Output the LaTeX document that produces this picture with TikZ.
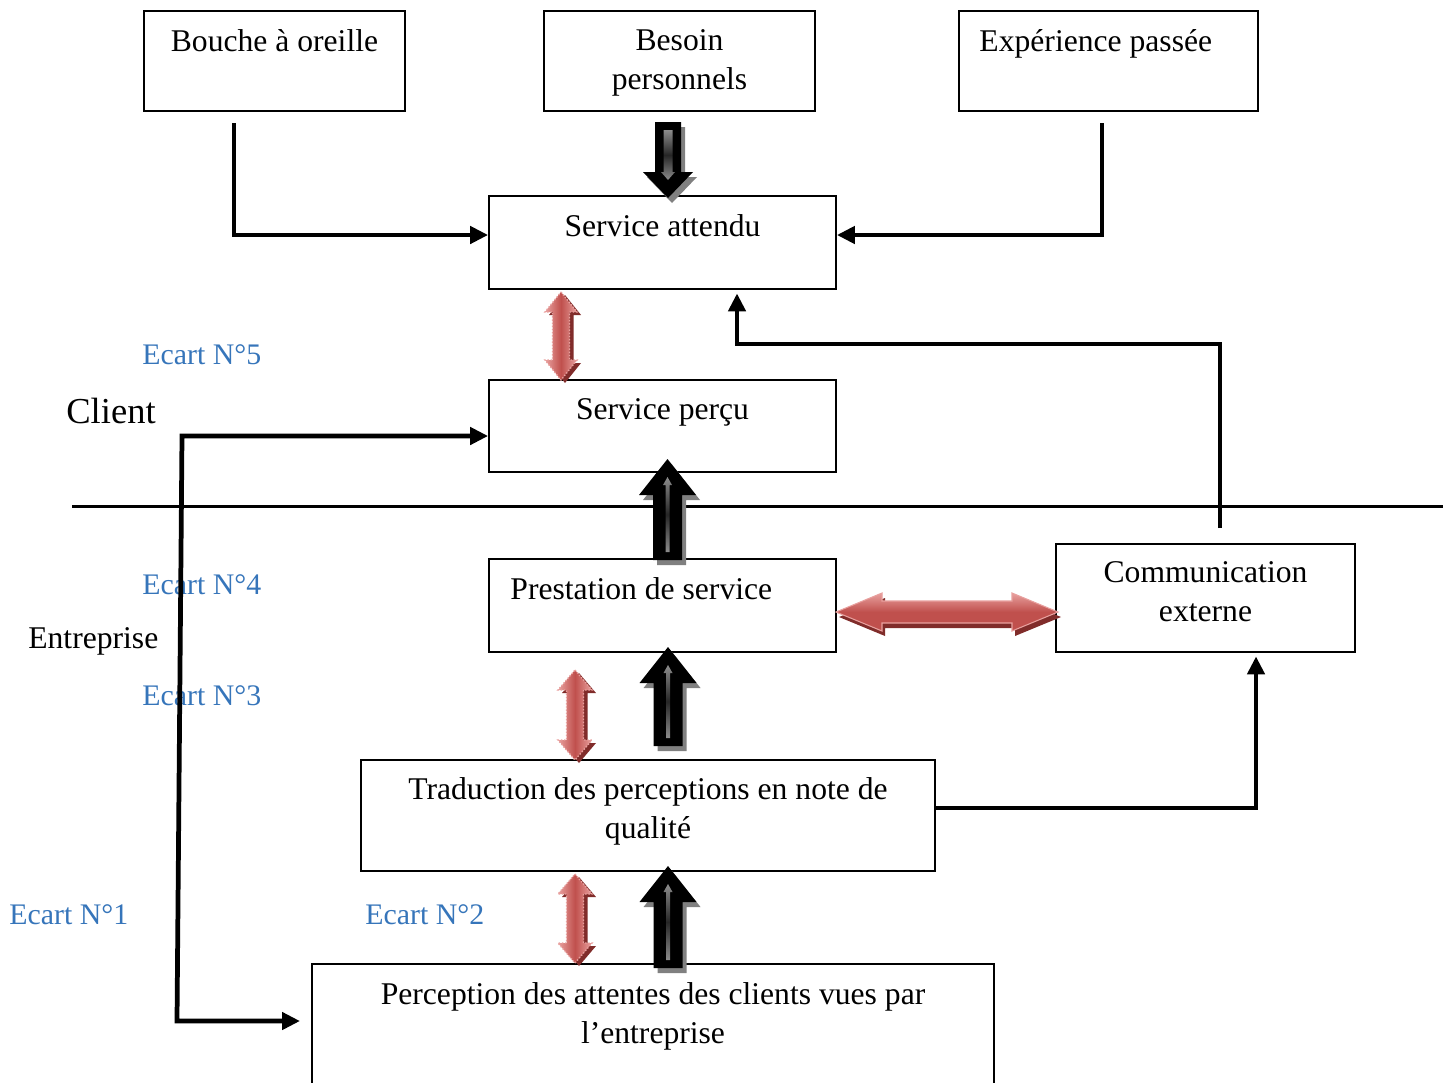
\documentclass[tikz,border=0pt]{standalone}
\usepackage{fontspec}
\setmainfont{Liberation Serif}
\usetikzlibrary{positioning,fit,arrows.meta}
\definecolor{ecart}{RGB}{54,117,186}
\definecolor{redmain}{RGB}{192,80,77}
\definecolor{redlight}{RGB}{232,160,158}
\definecolor{reddark}{RGB}{128,44,42}

\begin{document}
\begin{tikzpicture}[x=0.02cm, y=-0.02cm,
  every node/.style={inner sep=0},
  box/.style={draw, line width=1pt},
  txt/.style={align=center, font=\fontsize{18}{22}\selectfont},
  lbl/.style={anchor=base west, font=\fontsize{18}{22}\selectfont},
  ecartlbl/.style={lbl, text=ecart, font=\fontsize{17}{22}\selectfont},
  >={Triangle[length=0.36cm,width=0.34cm]},
  conn/.style={line width=2.7pt, ->},
  pics/blk/.style n args={5}{code={
    \pgfmathsetmacro\arrsg{sign(#1)}
    \pgfmathsetmacro\arrhb{#1-\arrsg*#4}
    \pgfmathsetmacro\arrst{#1-\arrsg*18}
    \pgfmathsetmacro\arrsb{#1-\arrsg*26}
    \pgfmathsetmacro\arrso{\arrsg*8}
    \pgfmathsetmacro\arrsw{#5+2.5}
    \fill[black!50, shift={(4,5)}] (-#2,0) -- (-#2,\arrhb) -- (-#3,\arrhb) -- (0,#1)
      -- (#3,\arrhb) -- (#2,\arrhb) -- (#2,0) -- cycle;
    \fill[black] (-#2,0) -- (-#2,\arrhb) -- (-#3,\arrhb) -- (0,#1)
      -- (#3,\arrhb) -- (#2,\arrhb) -- (#2,0) -- cycle;
    \shade[top color=black!45, bottom color=black!45, middle color=black!85]
      (-#5,\arrso) -- (-#5,\arrsb) -- (-\arrsw,\arrsb) -- (0,\arrst)
      -- (\arrsw,\arrsb) -- (#5,\arrsb) -- (#5,\arrso) -- cycle;
  }},
  pics/redv/.style n args={4}{code={
    \fill[reddark, shift={(4,3)}] (0,0) -- (#2,#4) -- (#3,#4) -- (#3,#1-#4) -- (#2,#1-#4)
      -- (0,#1) -- (-#2,#1-#4) -- (-#3,#1-#4) -- (-#3,#4) -- (-#2,#4) -- cycle;
    \shadedraw[left color=redlight, right color=redlight, middle color=redmain,
      draw=redlight, densely dotted, line width=0.8pt]
      (0,0) -- (#2,#4) -- (#3,#4) -- (#3,#1-#4) -- (#2,#1-#4)
      -- (0,#1) -- (-#2,#1-#4) -- (-#3,#1-#4) -- (-#3,#4) -- (-#2,#4) -- cycle;
  }},
  pics/redh/.style n args={4}{code={
    \fill[reddark, shift={(3,5)}] (0,0) -- (#4,-#2) -- (#4,-#3) -- (#1-#4,-#3) -- (#1-#4,-#2)
      -- (#1,0) -- (#1-#4,#2) -- (#1-#4,#3) -- (#4,#3) -- (#4,#2) -- cycle;
    \shadedraw[top color=redlight, bottom color=redmain, middle color=redmain,
      draw=redlight, line width=0.6pt]
      (0,0) -- (#4,-#2) -- (#4,-#3) -- (#1-#4,-#3) -- (#1-#4,-#2)
      -- (#1,0) -- (#1-#4,#2) -- (#1-#4,#3) -- (#4,#3) -- (#4,#2) -- cycle;
  }}]
\useasboundingbox (0,0) rectangle (1452,1082);

% boxes
\node[box, fit={(144,11) (405,111)}] (bo) {};
\node[box, fit={(544,11) (815,111)}] (bp) {};
\node[box, fit={(959,11) (1258,111)}] (ep) {};
\node[box, fit={(489,196) (836,289)}] (sa) {};
\node[box, fit={(489,380) (836,472)}] (sp) {};
\node[box, fit={(489,559) (836,652)}] (ps) {};
\node[box, fit={(1056,544) (1355,652)}] (ce) {};
\node[box, fit={(361,760) (935,871)}] (tp) {};
\node[box, fit={(312,964) (994,1100)}] (pa) {};

\node[txt, below=0.38cm of bo.north] (bot) {Bouche à oreille};
\node[txt, below=0.38cm of bp.north] (bpt) {Besoin\\personnels};
\node[txt, below right=0.38cm and 0.42cm of ep.north west] (ept) {Expérience passée};
\node[txt, below=0.38cm of sa.north] (sat) {Service attendu};
\node[txt, below=0.38cm of sp.north] (spt) {Service perçu};
\node[txt, below right=0.38cm and 0.44cm of ps.north west] (pst) {Prestation de service};
\node[txt, below=0.36cm of ce.north] (cet) {Communication\\externe};
\node[txt, below=0.36cm of tp.north] (tpt) {Traduction des perceptions en note de\\qualité};
\node[txt, below=0.38cm of pa.north] (pat) {Perception des attentes des clients vues par\\l’entreprise};

% labels
\node[ecartlbl] (e5) at (142,364) {Ecart N°5};
\node[ecartlbl] (e4) at (142,594) {Ecart N°4};
\node[ecartlbl] (e3) at (142,705) {Ecart N°3};
\node[ecartlbl] (e1) at (9,924) {Ecart N°1};
\node[ecartlbl] (e2) at (365,924) {Ecart N°2};
\node[lbl, font=\fontsize{20.8}{24}\selectfont] (cl) at (66,423) {Client};
\node[lbl] (en) at (28,648) {Entreprise};

\draw[line width=1.7pt] (72,506) -- (1443,506);

% connectors
\coordinate (bo1) at (234,123);
\coordinate (bo2) at (234,235);
\coordinate (ep1) at (1102,123);
\coordinate (ep2) at (1102,235);
\coordinate (ce1) at (1220,528);
\coordinate (ce2) at (1220,344);
\coordinate (ce3) at (737,344);
\coordinate (tp1) at (1256,808);
\coordinate (cl1) at (182,436);
\coordinate (cl2) at (177,1021);
\coordinate (cl3) at (300,1021);
\draw[conn] (bo1) -- (bo2) -- (sa.west |- bo2);
\draw[conn] (ep1) -- (ep2) -- (sa.east |- ep2);
\draw[conn, shorten >=2pt] (ce1) -- (ce2) -- (ce3) -- (ce3 |- sa.south);
\draw[conn, shorten >=2pt] (tp.east |- tp1) -- (tp1) -- (tp1 |- ce.south);
\draw[conn, <->] (sp.west |- cl1) -- (cl1) -- (cl2) -- (cl3);

% block arrows
\pic at (668,122) {blk={76}{13}{25}{26}{4.5}};
\pic at (667.5,560) {blk={-101}{14.5}{28.5}{36}{2}};
\pic at (668,746) {blk={-99}{14.5}{28.5}{36}{2}};
\pic at (668,968) {blk={-102}{14.5}{28.5}{36}{2}};
\pic at (561,292) {redv={88}{16}{8.5}{20}};
\pic at (575,670) {redv={90}{17}{8.5}{20}};
\pic at (575,874) {redv={89}{17}{8.5}{20}};
\pic at (836,612) {redh={222}{19}{11}{46}};
\end{tikzpicture}
\end{document}
